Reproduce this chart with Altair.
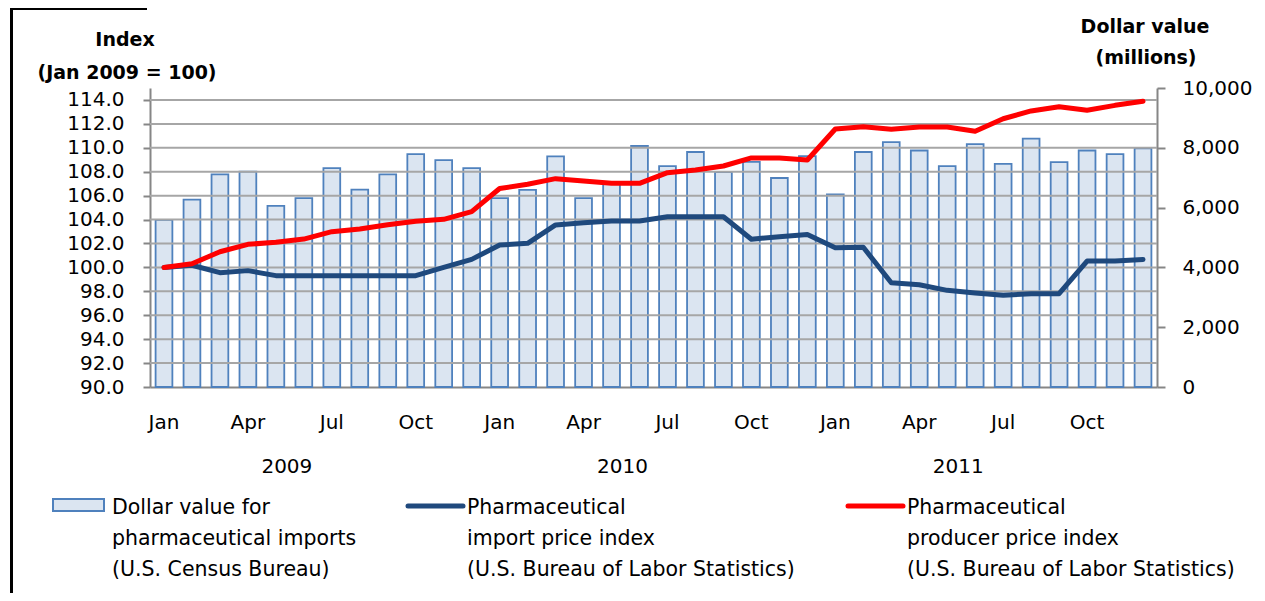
import altair as alt
import pandas as pd

FONT = "DejaVu Sans"

months = ["Jan", "Feb", "Mar", "Apr", "May", "Jun", "Jul", "Aug", "Sep", "Oct", "Nov", "Dec"]
years = ["2009", "2010", "2011"]
shown_months = ["Jan", "Apr", "Jul", "Oct"]

# Dollar value for pharmaceutical imports (millions)
dollar_2009 = [5590, 6270, 7110, 7200, 6060, 6320, 7320, 6600, 7110, 7790, 7590, 7320]
dollar_2010 = [6320, 6590, 7710, 6320, 6790, 8060, 7390, 7860, 7190, 7530, 6990, 7720]
dollar_2011 = [6440, 7860, 8190, 7910, 7390, 8120, 7460, 8310, 7520, 7910, 7790, 7980]

# Pharmaceutical import price index (Jan 2009 = 100)
import_2009 = [100.0, 100.18, 99.56, 99.73, 99.31, 99.31, 99.31, 99.31, 99.31, 99.31, 100.0, 100.67]
import_2010 = [101.87, 102.01, 103.55, 103.74, 103.88, 103.88, 104.24, 104.24, 104.24, 102.35, 102.57, 102.76]
import_2011 = [101.65, 101.68, 98.72, 98.55, 98.08, 97.86, 97.67, 97.8, 97.8, 100.53, 100.53, 100.67]

# Pharmaceutical producer price index (Jan 2009 = 100)
producer_2009 = [100.0, 100.3, 101.31, 101.93, 102.1, 102.37, 102.99, 103.21, 103.57, 103.85, 104.02, 104.66]
producer_2010 = [106.6, 106.95, 107.42, 107.22, 107.03, 107.03, 107.92, 108.14, 108.48, 109.15, 109.15, 108.98]
producer_2011 = [111.57, 111.76, 111.55, 111.74, 111.74, 111.38, 112.43, 113.08, 113.44, 113.14, 113.55, 113.89]

left_ticks = [90, 92, 94, 96, 98, 100, 102, 104, 106, 108, 110, 112, 114]
right_ticks = [0, 2000, 4000, 6000, 8000, 10000]

legend_1 = ["Dollar value  for", "pharmaceutical imports", "(U.S. Census Bureau)"]
legend_2 = ["Pharmaceutical", "import price index", "(U.S. Bureau of Labor Statistics)"]
legend_3 = ["Pharmaceutical", "producer price index", "(U.S. Bureau of Labor Statistics)"]

keys = [f"{y}-{m}" for y in years for m in months]
df = pd.DataFrame({
    "key": keys,
    "dollar": dollar_2009 + dollar_2010 + dollar_2011,
    "imp": import_2009 + import_2010 + import_2011,
    "prod": producer_2009 + producer_2010 + producer_2011,
})

W, H = 1007, 299
GRAY = "#868686"
FS = 20

label_expr = "indexof(" + str(shown_months) + ", split(datum.label, '-')[1]) >= 0 ? split(datum.label, '-')[1] : ''"
x_axis = alt.Axis(title=None, labelExpr=label_expr, labelAngle=0, ticks=False,
                  domainColor=GRAY, domainWidth=2, labelFontSize=FS, labelFont=FONT,
                  labelColor="black", labelPadding=25, labelBaseline="top")
xenc = alt.X("key:N", sort=keys, axis=x_axis,
             scale=alt.Scale(paddingInner=0.4, paddingOuter=0.2))

left_scale = alt.Scale(domain=[90, 115], nice=False, zero=False)

bars = alt.Chart(df).mark_bar(fill="#dbe5f1", stroke="#4f81bd", strokeWidth=1.8).encode(
    x=xenc,
    y=alt.Y("dollar:Q", scale=alt.Scale(domain=[0, 10000], nice=False),
            axis=alt.Axis(orient="right", values=right_ticks, format=",.0f", grid=False, title=None,
                          domainColor=GRAY, domainWidth=2, tickColor=GRAY, tickWidth=2, tickSize=8,
                          labelFontSize=FS, labelFont=FONT, labelColor="black", labelPadding=17)),
)

grid = alt.Chart(pd.DataFrame({"v": left_ticks[1:]})).mark_rule(color="#a6a6a6", strokeWidth=2).encode(
    y=alt.Y("v:Q", scale=left_scale, axis=None)
)

imp_line = alt.Chart(df).mark_line(color="#1f497d", strokeWidth=5, strokeJoin="round", strokeCap="round").encode(
    x=xenc,
    y=alt.Y("imp:Q", scale=left_scale,
            axis=alt.Axis(orient="left", values=left_ticks, format=".1f", grid=False, title=None,
                          domainColor=GRAY, domainWidth=2, tickColor=GRAY, tickWidth=2, tickSize=7,
                          labelFontSize=FS, labelFont=FONT, labelColor="black", labelPadding=19)),
)

prod_line = alt.Chart(df).mark_line(color="#ff0000", strokeWidth=5, strokeJoin="round", strokeCap="round").encode(
    x=xenc,
    y=alt.Y("prod:Q", scale=left_scale, axis=None),
)

year_df = pd.DataFrame({"key": [f"{y}-May" for y in years], "label": years})
year_text = alt.Chart(year_df).mark_text(fontSize=FS, font=FONT, color="black", dx=11,
                                         baseline="middle", align="center").encode(
    x=xenc, y=alt.value(379), text="label:N"
)

def text_at(txt, x, y, bold=False, align="center", size=FS):
    return alt.Chart(pd.DataFrame({"t": [txt]})).mark_text(
        fontSize=size, font=FONT, color="black", fontWeight="bold" if bold else "normal",
        align=align, baseline="middle").encode(x=alt.value(x), y=alt.value(y), text="t:N")

titles = [
    text_at("Index", -25, -48, bold=True, size=19),
    text_at("(Jan 2009 = 100)", -23, -15, bold=True, size=19),
    text_at("Dollar value", 995, -61, bold=True, size=19),
    text_at("(millions)", 996, -30, bold=True, size=19),
]

legend_layers = []
for col_x, lines in [(-38, legend_1), (317, legend_2), (757, legend_3)]:
    for i, t in enumerate(lines):
        legend_layers.append(text_at(t, col_x, 420 + 31 * i, align="left", size=20.5))

swatch = alt.Chart(pd.DataFrame({"a": [0]})).mark_rect(fill="#dbe5f1", stroke="#4f81bd", strokeWidth=2).encode(
    x=alt.value(-97), x2=alt.value(-46), y=alt.value(411), y2=alt.value(423))
blue_sw = alt.Chart(pd.DataFrame({"a": [0]})).mark_rule(color="#1f497d", strokeWidth=5, strokeCap="round").encode(
    x=alt.value(258), x2=alt.value(313), y=alt.value(418))
red_sw = alt.Chart(pd.DataFrame({"a": [0]})).mark_rule(color="#ff0000", strokeWidth=5, strokeCap="round").encode(
    x=alt.value(698), x2=alt.value(753), y=alt.value(418))

frame_top = alt.Chart(pd.DataFrame({"a": [0]})).mark_rect(color="black").encode(
    x=alt.value(-140), x2=alt.value(-3), y=alt.value(-80), y2=alt.value(-78))
frame_left = alt.Chart(pd.DataFrame({"a": [0]})).mark_rect(color="black").encode(
    x=alt.value(-140), x2=alt.value(-137), y=alt.value(-80), y2=alt.value(505))

chart = alt.layer(
    bars, grid, imp_line, prod_line, year_text, *titles, *legend_layers,
    swatch, blue_sw, red_sw, frame_top, frame_left
).resolve_scale(y="independent").properties(
    width=W, height=H,
    autosize=alt.AutoSizeParams(type="none"),
    padding={"left": 142, "top": 80, "right": 100, "bottom": 206},
    background="white",
).configure_view(stroke=None)

chart.save("out.html", embed_options={"renderer": "svg", "actions": False})
